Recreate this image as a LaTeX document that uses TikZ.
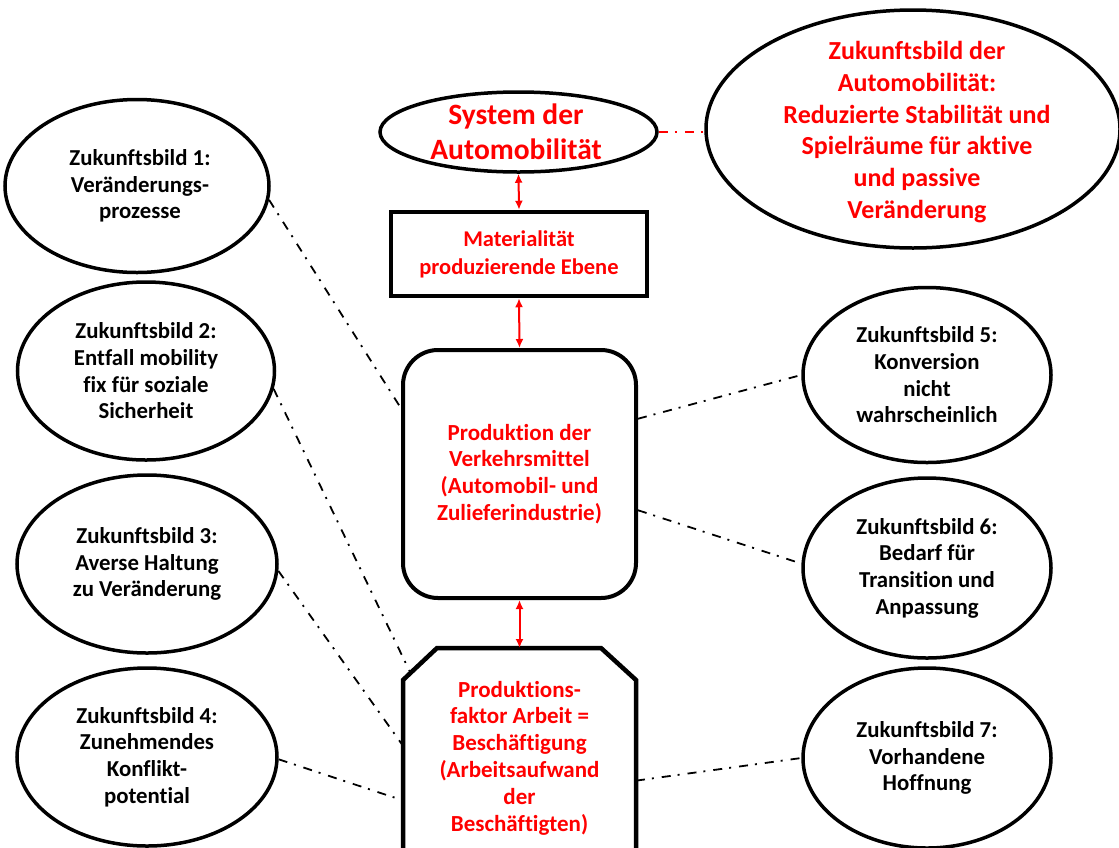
\documentclass[tikz,border=0pt]{standalone}
\usepackage{fontspec}
\setmainfont{Carlito}[Ligatures=NoCommon]
\usetikzlibrary{shapes.geometric,arrows.meta,positioning}
\tikzset{
  zb/.style={ellipse, draw, line width=3.5pt, minimum width=260pt, minimum height=178pt, inner sep=0pt},
  zbtext/.style={align=center, font=\fontsize{22.8}{26.7}\selectfont\bfseries},
  redtext/.style={align=center, text=red, font=\fontsize{23}{26.8}\selectfont\bfseries},
  link/.style={line width=1.8pt, dash pattern=on 9pt off 7pt on 2pt off 8pt},
  tie/.style={{Latex[length=9pt,width=8pt]}-{Latex[length=9pt,width=8pt]}, red, line width=2pt}}

\begin{document}
\begin{tikzpicture}[x=1pt, y=1pt]
  \useasboundingbox (0,0) rectangle (1119,-847);
  % middle column
  \node[ellipse, draw, line width=3.5pt, minimum width=277pt, minimum height=80pt, inner sep=0pt] (sys) at (518.5,-132) {};
  \node[redtext, font=\fontsize{29.5}{35}\selectfont\bfseries] (sys-t) at (516,-132) {System der\\Automobilität};
  \node[draw, line width=4.5pt, minimum width=256pt, minimum height=84pt] (mat) at (519,-254) {};
  \node[redtext, font=\fontsize{22.5}{28}\selectfont\bfseries] (mat-t) at (mat) {Materialität\\produzierende Ebene};
  \node[draw, line width=4pt, rounded corners=35pt, minimum width=233pt, minimum height=248pt] (prod) at (519.5,-474) {};
  \node[redtext] (prod-t) at (prod) {Produktion der\\Verkehrsmittel\\(Automobil- und\\Zulieferindustrie)};
  \node[outer sep=0pt, minimum width=233pt, minimum height=220pt] (arbeit) at (519.5,-758) {};
  \draw[line width=4.5pt] (arbeit.south west) -- ([yshift=-32pt]arbeit.north west)
    -- ([xshift=34pt]arbeit.north west) -- ([xshift=-35pt]arbeit.north east)
    -- ([yshift=-32pt]arbeit.north east) -- (arbeit.south east);
  \node[redtext] (arbeit-t) at (arbeit) {Produktions-\\faktor Arbeit =\\Beschäftigung\\(Arbeitsaufwand\\der\\Beschäftigten)};

  % outlook, top right
  \node[ellipse, draw, line width=3.5pt, minimum width=414pt, minimum height=238pt, inner sep=0pt] (zukunft) at (913,-129) {};
  \node[redtext, font=\fontsize{26}{31.8}\selectfont\bfseries] (zukunft-t) at (917,-132) {Zukunftsbild der\\Automobilität:\\Reduzierte Stabilität und\\Spielräume für aktive\\und passive\\Veränderung};

  % left ellipses
  \node[zb, minimum width=264pt, minimum height=173pt] (z1) at (137,-186) {};
  \node[zbtext] (z1-t) at (140,-186) {Zukunftsbild 1:\\Veränderungs-\\prozesse};
  \node[zb, minimum width=257pt] (z2) at (146,-371) {};
  \node[zbtext] (z2-t) at (z2) {Zukunftsbild 2:\\Entfall mobility\\fix für soziale\\Sicherheit};
  \node[zb] (z3) at (147,-564) {};
  \node[zbtext] (z3-t) at (z3) {Zukunftsbild 3:\\Averse Haltung\\zu Veränderung};
  \node[zb] (z4) at (147,-757) {};
  \node[zbtext] (z4-t) at (z4) {Zukunftsbild 4:\\Zunehmendes\\Konflikt-\\potential};

  % right ellipses
  \node[zb, minimum width=248pt, minimum height=175pt] (z5) at (927,-375) {};
  \node[zbtext] (z5-t) at (z5) {Zukunftsbild 5:\\Konversion\\nicht\\wahrscheinlich};
  \node[zb, minimum width=248pt, minimum height=180pt] (z6) at (927,-568) {};
  \node[zbtext] (z6-t) at (z6) {Zukunftsbild 6:\\Bedarf für\\Transition und\\Anpassung};
  \node[zb, minimum width=248pt, minimum height=180pt] (z7) at (927,-758) {};
  \node[zbtext] (z7-t) at (z7) {Zukunftsbild 7:\\Vorhandene\\Hoffnung};

  % arrows and links
  \draw[tie] (sys.south) -- (mat.north);
  \draw[tie] (mat.south) -- (prod.north);
  \draw[tie] (prod.south) -- (arbeit.north);
  \draw[link, red] (sys.east) -- (sys.east -| zukunft.west);
  \draw[link] (z1.-6) -- (prod.151);
  \draw[link] (z2.-8) -- ([xshift=7pt,yshift=-24pt]arbeit.north west);
  \draw[link] (z3.-3) -- (arbeit.174);
  \draw[link, shorten >=8pt] (z4.-1) -- (arbeit.-160);
  \draw[link] (prod.25) -- (z5.west);
  \draw[link] (prod.-17) -- (z6.178);
  \draw[link] (arbeit.-11) -- (z7.west);
\end{tikzpicture}
\end{document}
